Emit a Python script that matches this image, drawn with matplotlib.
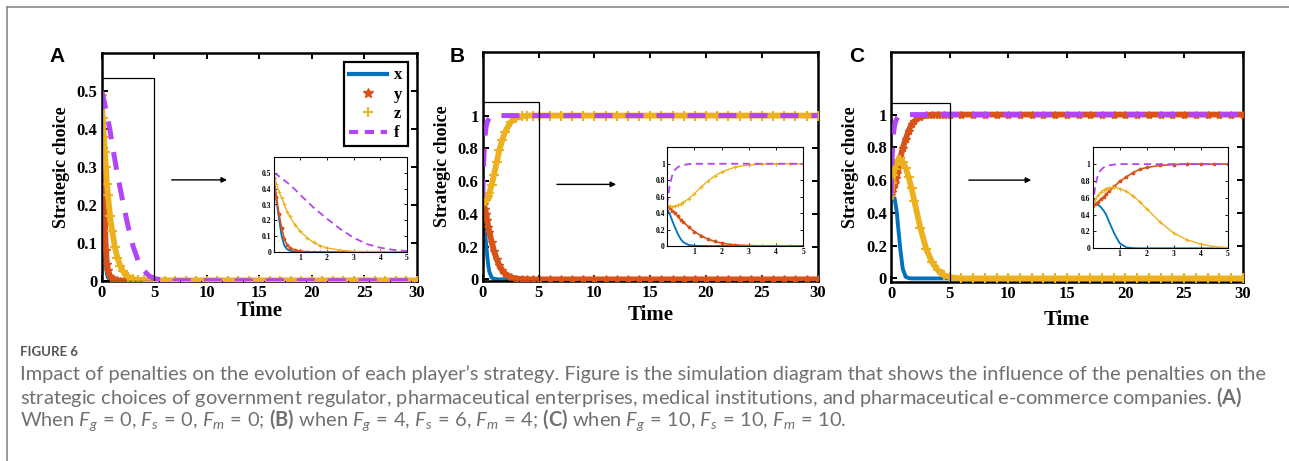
import matplotlib
matplotlib.use("Agg")
import matplotlib.pyplot as plt
from matplotlib.lines import Line2D
from matplotlib.patches import Rectangle

plt.rcParams['font.family'] = 'Liberation Serif'
plt.rcParams['font.weight'] = 'bold'
plt.rcParams['axes.labelweight'] = 'bold'
plt.rcParams['mathtext.fontset'] = 'custom'
plt.rcParams['mathtext.rm'] = 'Lato:normal'
plt.rcParams['mathtext.it'] = 'Lato:italic:normal'
plt.rcParams['mathtext.bf'] = 'Lato:bold'

BLUE = '#0072BD'
ORANGE = '#D95319'
YELLOW = '#EDB120'
PURPLE = '#B246F7'

# time points read in the zoomed window (0..5) and the flat tail up to 30
T = [0, 0.1, 0.2, 0.3, 0.4, 0.5, 0.6, 0.8, 1.0, 1.25, 1.5, 1.75, 2.0, 2.5, 3.0, 3.5, 4.0, 4.5, 5.0]
T_TAIL = list(range(6, 31))

# panel A: Fg=0, Fs=0, Fm=0
A_X = [0.45, 0.33, 0.21, 0.10, 0.04, 0.018, 0.008, 0.002, 0, 0, 0, 0, 0, 0, 0, 0, 0, 0, 0]
A_Y = [0.47, 0.35, 0.24, 0.15, 0.08, 0.045, 0.028, 0.012, 0.005, 0.002, 0.001, 0, 0, 0, 0, 0, 0, 0, 0]
A_Z = [0.49, 0.43, 0.38, 0.34, 0.30, 0.255, 0.225, 0.17, 0.13, 0.09, 0.06, 0.04, 0.026, 0.011, 0.004, 0.002, 0.001, 0, 0]
A_F = [0.50, 0.49, 0.478, 0.465, 0.452, 0.44, 0.425, 0.395, 0.36, 0.32, 0.28, 0.245, 0.21, 0.145, 0.09, 0.05, 0.027, 0.013, 0.006]
A_END = [0, 0, 0, 0]

# panel B: Fg=4, Fs=6, Fm=4
B_X = [0.45, 0.39, 0.30, 0.22, 0.145, 0.085, 0.045, 0.012, 0.003, 0.001, 0, 0, 0, 0, 0, 0, 0, 0, 0]
B_Y = [0.49, 0.46, 0.43, 0.40, 0.36, 0.32, 0.29, 0.23, 0.175, 0.125, 0.085, 0.055, 0.035, 0.013, 0.005, 0.002, 0.001, 0, 0]
B_Z = [0.50, 0.485, 0.48, 0.485, 0.495, 0.51, 0.53, 0.575, 0.635, 0.715, 0.79, 0.85, 0.90, 0.96, 0.985, 0.995, 1.0, 1.0, 1.0]
B_F = [0.50, 0.74, 0.87, 0.93, 0.96, 0.975, 0.985, 0.995, 1.0, 1.0, 1.0, 1.0, 1.0, 1.0, 1.0, 1.0, 1.0, 1.0, 1.0]
B_END = [0, 0, 1, 1]

# panel C: Fg=10, Fs=10, Fm=10
C_X = [0.52, 0.53, 0.515, 0.49, 0.45, 0.40, 0.32, 0.175, 0.06, 0.01, 0.002, 0, 0, 0, 0, 0, 0, 0, 0]
C_Y = [0.50, 0.525, 0.55, 0.58, 0.61, 0.645, 0.675, 0.735, 0.795, 0.85, 0.90, 0.94, 0.96, 0.985, 0.995, 1.0, 1.0, 1.0, 1.0]
C_Z = [0.50, 0.58, 0.63, 0.665, 0.69, 0.71, 0.72, 0.725, 0.71, 0.675, 0.62, 0.55, 0.47, 0.31, 0.18, 0.10, 0.05, 0.02, 0.008]
C_F = [0.50, 0.75, 0.88, 0.93, 0.96, 0.975, 0.985, 0.995, 1.0, 1.0, 1.0, 1.0, 1.0, 1.0, 1.0, 1.0, 1.0, 1.0, 1.0]
C_END = [0, 1, 0, 1]

MAIN_YTICKS = {'A': [0, 0.1, 0.2, 0.3, 0.4, 0.5], 'B': [0, 0.2, 0.4, 0.6, 0.8, 1], 'C': [0, 0.2, 0.4, 0.6, 0.8, 1]}
YTICK_LABELS = {'A': ['0', '0.1', '0.2', '0.3', '0.4', '0.5'], 'B': ['0', '0.2', '0.4', '0.6', '0.8', '1'], 'C': ['0', '0.2', '0.4', '0.6', '0.8', '1']}
XTICKS = [0, 5, 10, 15, 20, 25, 30]
INSET_XTICKS = [1, 2, 3, 4, 5]


def style_axes(ax, lw, tick_len, size):
    for s in ax.spines.values():
        s.set_linewidth(lw)
    ax.tick_params(direction='in', top=True, right=True, length=tick_len, width=lw * 0.8,
                   labelsize=size, pad=3)


def draw_panel(fig, letter, rect, inset_rect, series, end, ylim, box_top, arrow_y, inset_ylim, label_x, xlabel_pad):
    ax = fig.add_axes(rect)
    t_full = T + T_TAIL
    xs, ys, zs, fs = [list(s) + [e] * len(T_TAIL) for s, e in zip(series, end)]
    ax.plot(t_full, xs, color=BLUE, lw=2.8, zorder=2)
    ax.plot(t_full, ys, color=ORANGE, lw=4.2, marker='*', ms=6, zorder=3)
    ax.plot(t_full, zs, color=YELLOW, lw=4.2, marker='+', ms=7, mew=1.5, zorder=4)
    ax.plot(t_full, fs, color=PURPLE, lw=3.6, dashes=(3.6, 2.6), zorder=6)
    ax.set_xlim(0, 30)
    ax.set_ylim(*ylim)
    ax.set_xticks(XTICKS)
    ax.set_yticks(MAIN_YTICKS[letter], YTICK_LABELS[letter])
    style_axes(ax, 1.8, 4, 12)
    ax.set_xlabel('Time', fontsize=15, labelpad=xlabel_pad)
    ax.set_ylabel('Strategic choice', fontsize=13, labelpad=5)

    ax.add_patch(Rectangle((0, ylim[0]), 5, box_top - ylim[0], fill=False, ec='black', lw=0.9, zorder=7))
    ax.annotate('', xy=(12.2, arrow_y), xytext=(6.4, arrow_y),
                arrowprops=dict(arrowstyle='-|>', color='black', lw=1.0, mutation_scale=8))

    ins = fig.add_axes(inset_rect)
    ins.plot(T, series[0], color=BLUE, lw=1.3)
    ins.plot(T, series[1], color=ORANGE, lw=1.2, marker='*', ms=2.5)
    ins.plot(T, series[2], color=YELLOW, lw=1.0, marker='+', ms=3, mew=0.8)
    ins.plot(T, series[3], color=PURPLE, lw=1.3, dashes=(4, 2.5))
    ins.set_xlim(0, 5)
    ins.set_ylim(*inset_ylim)
    ins.set_xticks(INSET_XTICKS)
    ins.set_yticks(MAIN_YTICKS[letter], YTICK_LABELS[letter])
    style_axes(ins, 0.8, 2, 5.5)
    ins.tick_params(pad=1.5)

    fig.text(label_x, 1 - 57 / 461, letter, family='Liberation Sans', weight='bold',
             fontsize=15, ha='center', va='center')
    return ax


W, H = 1289, 461
fig = plt.figure(figsize=(W / 100, H / 100), dpi=100)


def frac(left, top, right, bottom):
    return [left / W, 1 - bottom / H, (right - left) / W, (bottom - top) / H]


ax_a = draw_panel(fig, 'A', frac(101.7, 53.3, 416.7, 280.7), frac(273.7, 157, 407, 252),
                  (A_X, A_Y, A_Z, A_F), A_END, (0, 0.6), 0.534, 0.266, (0, 0.6), 57 / W, 0)
draw_panel(fig, 'B', frac(482.7, 51.7, 817.7, 280.7), frac(667, 147.3, 803.3, 246),
           (B_X, B_Y, B_Z, B_F), B_END, (-0.008, 1.39), 1.08, 0.58, (0, 1.2), 457 / W, 3)
draw_panel(fig, 'C', frac(891, 52.3, 1242.7, 281.7), frac(1092.7, 147.3, 1227.7, 248.3),
           (C_X, C_Y, C_Z, C_F), C_END, (-0.02, 1.38), 1.07, 0.60, (0, 1.2), 857 / W, 6)

handles = [Line2D([], [], color=BLUE, lw=3),
           Line2D([], [], color=ORANGE, marker='*', ls='none', ms=7),
           Line2D([], [], color=YELLOW, marker='+', ls='none', ms=7, mew=1.5),
           Line2D([], [], color=PURPLE, lw=3, dashes=(2.2, 1.6))]
leg = ax_a.legend(handles, ['x', 'y', 'z', 'f'], loc='upper right', fontsize=12,
                  frameon=True, fancybox=False, edgecolor='black', framealpha=1,
                  handlelength=2.3, handletextpad=0.4, labelspacing=0.2,
                  borderpad=0.3, borderaxespad=0.55)
leg.get_frame().set_linewidth(1.6)

# outer frame of the figure block
fig.add_artist(Line2D([7 / W, 7 / W], [0, 1 - 7 / H], color='#8a8a8a', lw=1.2, transform=fig.transFigure))
fig.add_artist(Line2D([7 / W, 1], [1 - 7 / H, 1 - 7 / H], color='#8a8a8a', lw=1.2, transform=fig.transFigure))

CAPTION_TITLE = 'FIGURE 6'
CAPTION_LINES = [
    "Impact of penalties on the evolution of each player\u2019s strategy. Figure is the simulation diagram that shows the influence of the penalties on the",
    r"strategic choices of government regulator, pharmaceutical enterprises, medical institutions, and pharmaceutical e-commerce companies. $\mathbf{(A)}$",
    r"When $F_g\,=\,0$, $F_s\,=\,0$, $F_m\,=\,0$; $\mathbf{(B)}$ when $F_g\,=\,4$, $F_s\,=\,6$, $F_m\,=\,4$; "
    r"$\mathbf{(C)}$ when $F_g\,=\,10$, $F_s\,=\,10$, $F_m\,=\,10$.",
]
fig.text(20 / W, 1 - 352 / H, CAPTION_TITLE, family='Lato', weight='bold', fontsize=9.5,
         color='#555555', va='center')
for i, line in enumerate(CAPTION_LINES):
    fig.text(20 / W, 1 - (374 + 23 * i) / H, line, family='Lato', weight='normal',
             fontsize=14.4, color='#707070', va='center')

fig.savefig('out.png', dpi=100)
